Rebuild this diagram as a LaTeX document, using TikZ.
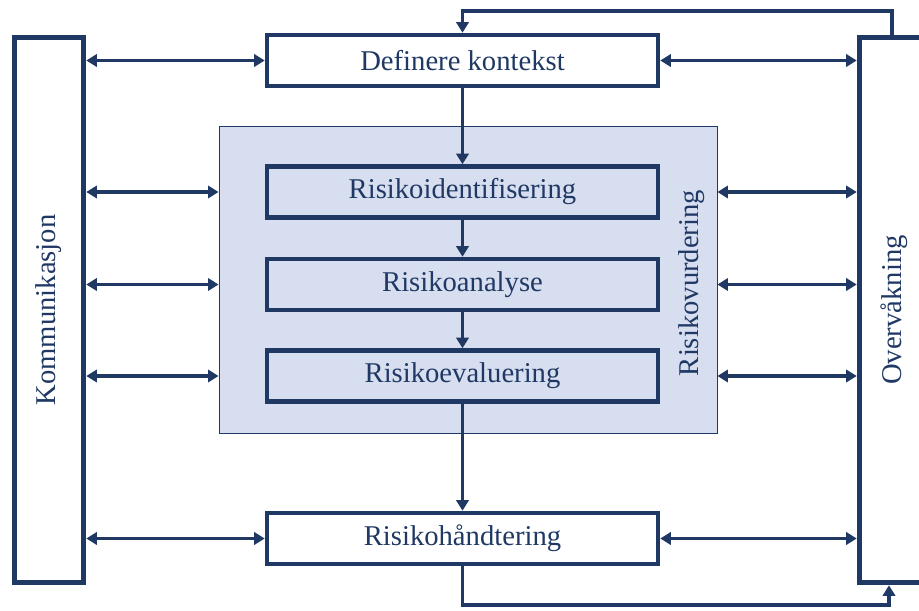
\documentclass[tikz,border=0pt]{standalone}
\usepackage{fontspec}
\setmainfont{Liberation Serif}
\usetikzlibrary{arrows.meta}
\definecolor{navy}{HTML}{1F3864}
\definecolor{paleblue}{HTML}{D6DEEF}

\begin{document}
\begin{tikzpicture}
\tikzstyle{side}=[rectangle,draw=navy,line width=3.2pt,minimum width=10.9cm,minimum height=1.38cm,font=\fontsize{16.3}{19}\selectfont,text=navy]
\tikzstyle{stage}=[rectangle,draw=navy,line width=2.6pt,fill=white,minimum width=7.82cm,minimum height=1.02cm,font=\fontsize{16.3}{19}\selectfont,text=navy]
\tikzstyle{inner}=[stage,fill=paleblue]
\tikzstyle{flow}=[draw=navy,line width=1.9pt,-{Triangle[length=6pt,width=7pt]}]
\tikzstyle{link}=[draw=navy,line width=1.9pt,{Triangle[length=6pt,width=7pt]}-{Triangle[length=6pt,width=7pt]}]
\useasboundingbox (0,0) rectangle (18.38,12.2);
\node [rectangle,draw=navy,line width=0.5pt,fill=paleblue,minimum width=9.96cm,minimum height=6.14cm] (vurd) at (9.36,6.61) {};
\node [side,rotate=90] (kom) at (0.98,6.0) {Kommunikasjon};
\node [side,rotate=90] (over) at (17.88,6.0) {Overvåkning};
\node [stage] (def) at (9.25,10.99) {Definere kontekst};
\node [inner] (ident) at (9.25,8.36) {Risikoidentifisering};
\node [inner] (anal) at (9.25,6.51) {Risikoanalyse};
\node [inner] (eval) at (9.25,4.68) {Risikoevaluering};
\node [stage] (hand) at (9.25,1.43) {Risikohåndtering};
\node [rotate=90,text=navy,font=\fontsize{16.3}{19}\selectfont] (vurdtxt) at (13.84,6.54) {Risikovurdering};
\coordinate (top) at (17.84,11.98);
\coordinate (bot) at (17.78,0.1);
% main flow
\draw [flow] (def) -- (ident);
\draw [flow] (ident) -- (anal);
\draw [flow] (anal) -- (eval);
\draw [flow] (eval) -- (hand);
% feedback loop
\draw [flow] (top |- over.east) -- (top) -| (def.north);
\draw [flow] (hand.south) |- (bot) -- (bot |- over.west);
% links to the side boxes
\draw [link] (kom.south |- def) -- (def.west);
\draw [link] (def.east) -- (over.north |- def);
\foreach \n in {ident,anal,eval}{
\draw [link] (kom.south |- \n) -- (vurd.west |- \n);
\draw [link] (vurd.east |- \n) -- (over.north |- \n);
}
\draw [link] (kom.south |- hand) -- (hand.west);
\draw [link] (hand.east) -- (over.north |- hand);
\end{tikzpicture}
\end{document}
